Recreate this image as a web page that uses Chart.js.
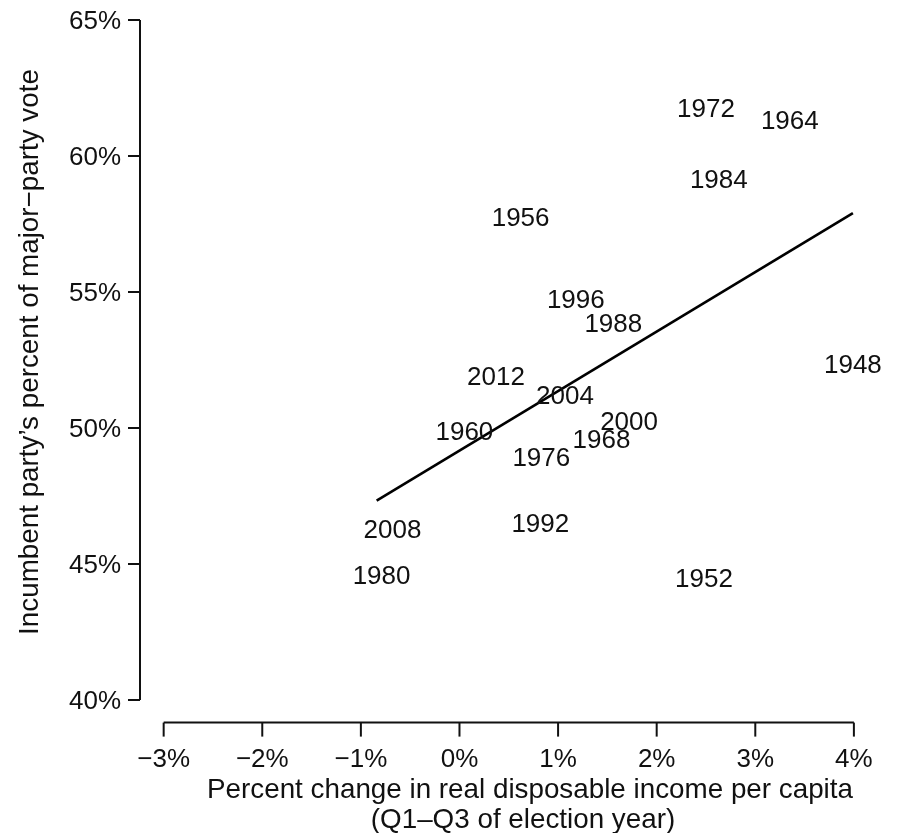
<!DOCTYPE html>
<html>
<head>
<meta charset="utf-8">
<script src="https://cdn.jsdelivr.net/npm/chart.js@4/dist/chart.umd.min.js"></script>
<style>
  html, body { margin: 0; padding: 0; background: #fff; }
  #wrap { width: 900px; height: 833px; }
</style>
</head>
<body>
<div id="wrap"><canvas id="c" width="900" height="833"></canvas></div>
<script>
// election years and their values
const years = ['1948', '1952', '1956', '1960', '1964', '1968', '1972', '1976', '1980',
               '1984', '1988', '1992', '1996', '2000', '2004', '2008', '2012'];
const incomeChange = [3.99, 2.48, 0.62, 0.05, 3.35, 1.44, 2.50, 0.83, -0.79,
                      2.63, 1.56, 0.82, 1.18, 1.72, 1.07, -0.68, 0.37];
const voteShare = [52.35, 44.50, 57.77, 49.90, 61.34, 49.60, 61.78, 48.95, 44.62,
                   59.18, 53.88, 46.51, 54.74, 50.27, 51.21, 46.29, 51.92];

// fitted line end points
const fitX = [-0.84, 3.99];
const fitY = [47.33, 57.90];

// axis ticks
const xTicks = [-3, -2, -1, 0, 1, 2, 3, 4];
const yTicks = [40, 45, 50, 55, 60, 65];

const FONT = '26px "Liberation Sans", Arial, sans-serif';
const TITLE_FONT = '27.8px "Liberation Sans", Arial, sans-serif';
const INK = '#111';
const CAP = 9.3; // half the cap height, to center digits on a point

function pct(v) {
  return (v < 0 ? '\u2212' + Math.abs(v) : String(v)) + '%';
}

// R-style axes: the axis line only covers the tick range
const rAxes = {
  id: 'rAxes',
  afterDraw(chart) {
    const ctx = chart.ctx;
    const xs = chart.scales.x, ys = chart.scales.y;
    const area = chart.chartArea;
    ctx.save();
    ctx.strokeStyle = INK;
    ctx.fillStyle = INK;
    ctx.lineWidth = 2;
    ctx.font = FONT;

    // y axis
    const yl = area.left;
    ctx.beginPath();
    ctx.moveTo(yl, ys.getPixelForValue(yTicks[0]));
    ctx.lineTo(yl, ys.getPixelForValue(yTicks[yTicks.length - 1]));
    ctx.stroke();
    ctx.textAlign = 'right';
    ctx.textBaseline = 'alphabetic';
    yTicks.forEach(t => {
      const py = ys.getPixelForValue(t);
      ctx.beginPath();
      ctx.moveTo(yl, py);
      ctx.lineTo(yl - 12, py);
      ctx.stroke();
      ctx.fillText(pct(t), yl - 19, py + CAP);
    });

    // x axis
    const xb = area.bottom;
    ctx.beginPath();
    ctx.moveTo(xs.getPixelForValue(xTicks[0]), xb);
    ctx.lineTo(xs.getPixelForValue(xTicks[xTicks.length - 1]), xb);
    ctx.stroke();
    ctx.textAlign = 'center';
    xTicks.forEach(t => {
      const px = xs.getPixelForValue(t);
      ctx.beginPath();
      ctx.moveTo(px, xb);
      ctx.lineTo(px, xb + 14);
      ctx.stroke();
      ctx.fillText(pct(t), px, 767);
    });

    // axis titles
    ctx.font = TITLE_FONT;
    ctx.fillText('Percent change in real disposable income per capita', 530, 798);
    ctx.fillText('(Q1\u2013Q3 of election year)', 523, 828);

    ctx.translate(38, 352);
    ctx.rotate(-Math.PI / 2);
    ctx.fillText('Incumbent party\u2019s percent of major\u2212party vote', 0, 0);
    ctx.restore();
  }
};

// year labels drawn where the points are
const yearLabels = {
  id: 'yearLabels',
  afterDatasetsDraw(chart) {
    const ctx = chart.ctx;
    const meta = chart.getDatasetMeta(0);
    ctx.save();
    ctx.font = FONT;
    ctx.fillStyle = INK;
    ctx.textAlign = 'center';
    ctx.textBaseline = 'alphabetic';
    meta.data.forEach((pt, i) => {
      ctx.fillText(years[i], pt.x, pt.y + CAP);
    });
    ctx.restore();
  }
};

new Chart(document.getElementById('c'), {
  type: 'scatter',
  data: {
    datasets: [
      {
        data: incomeChange.map((x, i) => ({ x: x, y: voteShare[i] })),
        pointRadius: 0,
        pointHoverRadius: 0,
        showLine: false
      },
      {
        type: 'line',
        data: fitX.map((x, i) => ({ x: x, y: fitY[i] })),
        borderColor: '#000',
        borderWidth: 2.6,
        pointRadius: 0,
        fill: false
      }
    ]
  },
  options: {
    responsive: false,
    animation: false,
    events: [],
    layout: { padding: { left: 140, right: 18.5, top: 20, bottom: 110.4 } },
    scales: {
      x: { type: 'linear', min: -3.24, max: 4.28, display: false },
      y: { type: 'linear', min: 39.17, max: 65, display: false }
    },
    plugins: { legend: { display: false }, tooltip: { enabled: false } }
  },
  plugins: [rAxes, yearLabels]
});
</script>
</body>
</html>
